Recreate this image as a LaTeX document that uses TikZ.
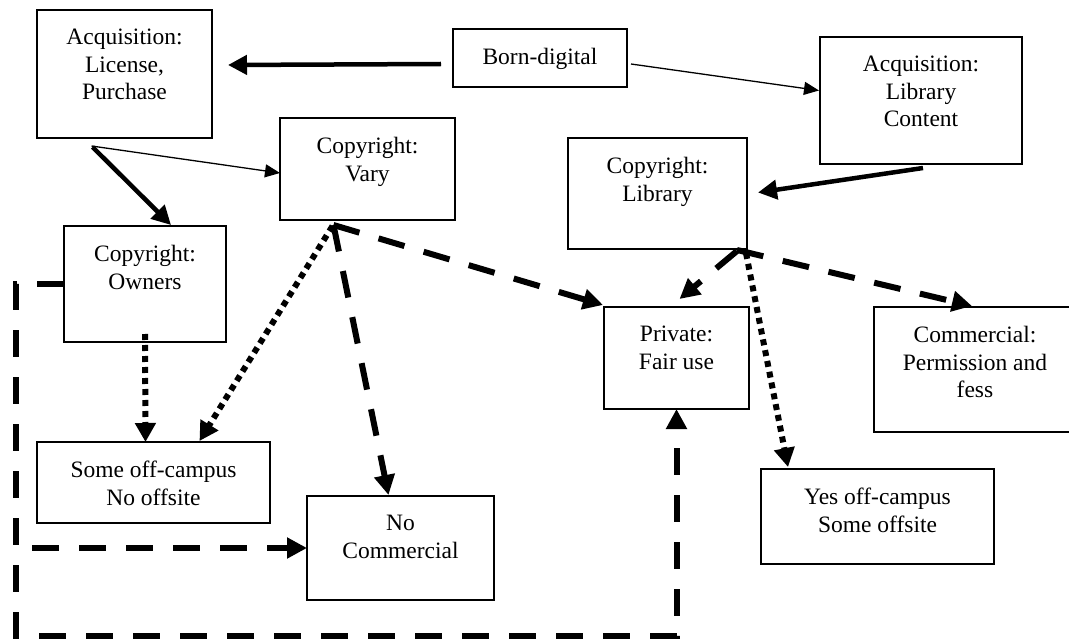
\documentclass[tikz,border=0pt]{standalone}
\usepackage{fontspec}
\setmainfont{Liberation Serif}
\usetikzlibrary{arrows.meta,calc}
\tikzset{
  frame/.style={draw, line width=1.5pt, inner sep=0pt, outer sep=0pt, anchor=north west},
  lbl/.style={anchor=north, align=center, inner sep=0pt, font=\fontsize{23.5}{27.5}\selectfont},
  thickarrow/.style={line width=4.5pt, -{Triangle[length=19pt,width=19pt]}},
  thinarrow/.style={line width=1.3pt, -{Triangle[length=15pt,width=13pt]}},
  dasharrow/.style={line width=6pt, dash pattern=on 27pt off 20pt, -{Triangle[length=20pt,width=20pt]}},
  dotarrow/.style={line width=6pt, dash pattern=on 6pt off 5pt, -{Triangle[length=19pt,width=20pt]}},
  dashline/.style={line width=6pt, dash pattern=on 27pt off 20pt},
}
\newcommand\mkbox[6]{%
  \node[frame, minimum width={(#4-#2)*1pt}, minimum height={(#5-#3)*1pt}] (#1) at (#2,#3) {};
  \node[lbl] (#1-t) at ([yshift=-19pt]#1.north) {#6};}
\begin{document}
\begin{tikzpicture}[x=1pt,y=-1pt]
\useasboundingbox (0,0) rectangle (1069,639);
\clip (0,0) rectangle (1069,639);
\mkbox{acql}{37}{10}{212}{138}{Acquisition:\\License,\\Purchase}
\mkbox{bd}{453}{29}{627}{87}{Born-digital}
\mkbox{acqc}{820}{37}{1022}{164}{Acquisition:\\Library\\Content}
\mkbox{vary}{280}{118}{455}{220}{Copyright:\\Vary}
\mkbox{lib}{568}{138}{747}{249}{Copyright:\\Library}
\mkbox{own}{64}{226}{226}{342}{Copyright:\\Owners}
\mkbox{priv}{604}{307}{749}{409}{Private:\\Fair use}
\mkbox{comm}{874}{307}{1076}{432}{Commercial:\\Permission and\\fess}
\mkbox{some}{37}{442}{270}{523}{Some off-campus\\No offsite}
\mkbox{noc}{307}{496}{494}{600}{No\\Commercial}
\mkbox{yes}{761}{469}{994}{564}{Yes off-campus\\Some offsite}

% solid connectors
\draw[thickarrow] ($(bd.west)+(-12,6)$) -- ($(acql.east)+(16,-9)$);
\draw[thinarrow] ($(bd.east)+(4,6)$) -- ($(acqc.west)+(-1,-10)$);
\draw[thinarrow] ($(acql.south)+(-33,8)$) -- ($(vary.west)+(0,4)$);
\draw[thickarrow] ($(acql.south)+(-32,9)$) -- ($(own.north)+(26,-1)$);
\draw[thickarrow] ($(acqc.south)+(2,4)$) -- ($(lib.east)+(11,-1)$);

% dotted connectors
\draw[dotarrow] ($(own.south)+(0,-8)$) -- ($(some.north)+(-8,0)$);
\draw[dotarrow] ($(vary.south)+(-35,6)$) -- ($(some.north)+(46,-1)$);
\draw[dotarrow] ($(lib.south east)+(-1,4)$) -- ($(yes.north west)+(27,-2)$);

% dashed connectors
\draw[dasharrow] ($(vary.south)+(-34,5)$) -- ($(noc.north)+(-12,-1)$);
\draw[dasharrow] ($(vary.south)+(-34,5)$) -- ($(priv.north west)+(-1,-2)$);
\draw[dasharrow] ($(lib.south east)+(-10,2)$) -- ($(priv.north)+(3,-8)$);
\draw[dasharrow] ($(lib.south east)+(-10,1)$) -- ($(comm.north)+(-3,-1)$);

% long dashed route
\coordinate (ltop) at (16,284);
\coordinate (lbot) at (16,636);
\coordinate (nstart) at (32,548);
\draw[dasharrow] (own.west) -- (ltop) -- (lbot) -| (priv.south);
\draw[dasharrow] (nstart) -- (noc.west);
\end{tikzpicture}
\end{document}
